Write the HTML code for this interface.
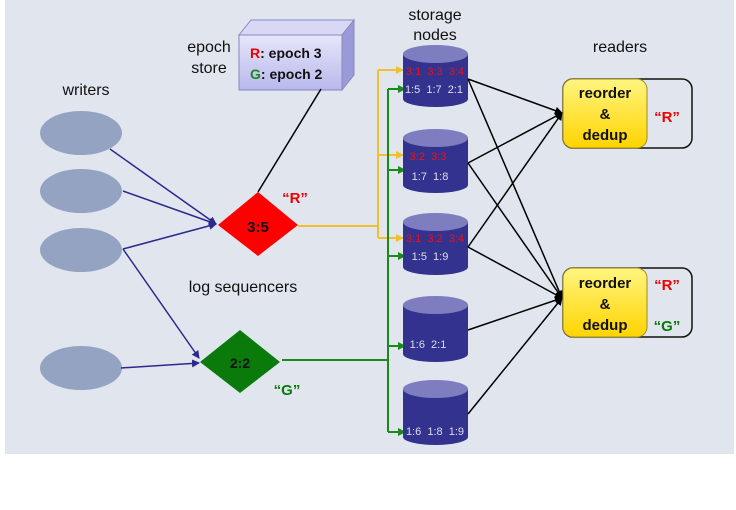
<!DOCTYPE html>
<html><head><meta charset="utf-8"><style>
body{margin:0;background:#fff;width:736px;height:510px;overflow:hidden}
svg{display:block;font-family:"Liberation Sans","DejaVu Sans",sans-serif}
</style></head><body>
<svg width="736" height="510" viewBox="0 0 736 510">
<defs>
<marker id="ab" markerWidth="8" markerHeight="8" refX="7" refY="4" orient="auto" markerUnits="userSpaceOnUse"><path d="M0,0L8,4L0,8z" fill="#2b2a8c"/></marker>
<marker id="ay" markerWidth="8" markerHeight="8" refX="7" refY="4" orient="auto" markerUnits="userSpaceOnUse"><path d="M0,0L8,4L0,8z" fill="#f0c030"/></marker>
<marker id="ag" markerWidth="8" markerHeight="8" refX="7" refY="4" orient="auto" markerUnits="userSpaceOnUse"><path d="M0,0L8,4L0,8z" fill="#1a8a1a"/></marker>
<marker id="ak" markerWidth="8" markerHeight="8" refX="7" refY="4" orient="auto" markerUnits="userSpaceOnUse"><path d="M0,0L8,4L0,8z" fill="#000"/></marker>
<linearGradient id="yg" x1="0" y1="0" x2="0" y2="1"><stop offset="0" stop-color="#fff580"/><stop offset="1" stop-color="#ffd400"/></linearGradient>
<linearGradient id="bx" x1="0" y1="0" x2="0" y2="1"><stop offset="0" stop-color="#e6e6fa"/><stop offset="1" stop-color="#b8b8ec"/></linearGradient>
</defs>
<rect x="5" y="0" width="729" height="454" fill="#e0e5ee"/>

<text x="86" y="95" font-size="16" text-anchor="middle" fill="#111">writers</text>
<text x="209" y="52" font-size="16" text-anchor="middle" fill="#111">epoch</text>
<text x="209" y="73" font-size="16" text-anchor="middle" fill="#111">store</text>
<text x="435" y="20" font-size="16" text-anchor="middle" fill="#111">storage</text>
<text x="435" y="40" font-size="16" text-anchor="middle" fill="#111">nodes</text>
<text x="620" y="52" font-size="16" text-anchor="middle" fill="#111">readers</text>
<text x="243" y="292" font-size="16" text-anchor="middle" fill="#111">log sequencers</text>

<polygon points="239,35 251,20 354,20 342,35" fill="#d8d8f4" stroke="#8888c0"/>
<polygon points="342,35 354,20 354,75 342,90" fill="#9a9ad8" stroke="#8888c0"/>
<rect x="239" y="35" width="103" height="55" fill="url(#bx)" stroke="#8888c0"/>
<text x="250" y="58" font-size="14" font-weight="bold"><tspan fill="#e00">R</tspan><tspan fill="#111">: epoch 3</tspan></text>
<text x="250" y="79" font-size="14" font-weight="bold"><tspan fill="#1a8a1a">G</tspan><tspan fill="#111">: epoch 2</tspan></text>
<line x1="321" y1="89" x2="258" y2="192" stroke="#000" stroke-width="1.5"/>

<g fill="#95a3c2">
<ellipse cx="81" cy="133" rx="41" ry="22"/>
<ellipse cx="81" cy="191" rx="41" ry="22"/>
<ellipse cx="81" cy="250" rx="41" ry="22"/>
<ellipse cx="81" cy="368" rx="41" ry="22"/>
</g>
<g stroke="#2b2a8c" stroke-width="1.5" fill="none">
<line x1="110" y1="149" x2="216" y2="224" marker-end="url(#ab)"/>
<line x1="123" y1="191" x2="216" y2="224" marker-end="url(#ab)"/>
<line x1="123" y1="249" x2="216" y2="224" marker-end="url(#ab)"/>
<line x1="123" y1="249" x2="199" y2="358" marker-end="url(#ab)"/>
<line x1="121" y1="368" x2="199" y2="363" marker-end="url(#ab)"/>
</g>

<polygon points="258,192 298,225 258,256 218,225" fill="#ff0000"/>
<text x="258" y="232" font-size="15" font-weight="bold" text-anchor="middle" fill="#111">3:5</text>
<text x="295" y="203" font-size="15" font-weight="bold" text-anchor="middle" fill="#e00">“R”</text>
<polygon points="240,330 280,362 240,393 200,362" fill="#0a7a0a"/>
<text x="240" y="368" font-size="14" font-weight="bold" text-anchor="middle" fill="#111">2:2</text>
<text x="287" y="395" font-size="15" font-weight="bold" text-anchor="middle" fill="#0a7a0a">“G”</text>

<g stroke="#f0c030" stroke-width="2" fill="none">
<polyline points="298,226 378,226"/>
<line x1="378" y1="70" x2="378" y2="238"/>
<line x1="378" y1="70" x2="403" y2="70" marker-end="url(#ay)"/>
<line x1="378" y1="155" x2="403" y2="155" marker-end="url(#ay)"/>
<line x1="378" y1="238" x2="403" y2="238" marker-end="url(#ay)"/>
</g>
<g stroke="#1a8a1a" stroke-width="2" fill="none">
<line x1="282" y1="360" x2="388" y2="360"/>
<line x1="388" y1="89" x2="388" y2="432"/>
<line x1="388" y1="89" x2="405" y2="89" marker-end="url(#ag)"/>
<line x1="388" y1="170" x2="405" y2="170" marker-end="url(#ag)"/>
<line x1="388" y1="256" x2="405" y2="256" marker-end="url(#ag)"/>
<line x1="388" y1="346" x2="405" y2="346" marker-end="url(#ag)"/>
<line x1="388" y1="432" x2="405" y2="432" marker-end="url(#ag)"/>
</g>

<g>
<path d="M403,54 V99 A32.5,8 0 0 0 468,99 V54 Z" fill="#33338f"/><ellipse cx="435.5" cy="54" rx="32.5" ry="9" fill="#7d7dc0"/>
<path d="M403,138 V185 A32.5,8 0 0 0 468,185 V138 Z" fill="#33338f"/><ellipse cx="435.5" cy="138" rx="32.5" ry="9" fill="#7d7dc0"/>
<path d="M403,222 V267 A32.5,8 0 0 0 468,267 V222 Z" fill="#33338f"/><ellipse cx="435.5" cy="222" rx="32.5" ry="9" fill="#7d7dc0"/>
<path d="M403,305 V354 A32.5,8 0 0 0 468,354 V305 Z" fill="#33338f"/><ellipse cx="435.5" cy="305" rx="32.5" ry="9" fill="#7d7dc0"/>
<path d="M403,389 V437 A32.5,8 0 0 0 468,437 V389 Z" fill="#33338f"/><ellipse cx="435.5" cy="389" rx="32.5" ry="9" fill="#7d7dc0"/>
</g>
<g font-size="11" fill="#f01010" text-anchor="middle">
<text x="435" y="75" xml:space="preserve">3:1  3:3  3:4</text>
<text x="428" y="160" xml:space="preserve">3:2  3:3</text>
<text x="435" y="242" xml:space="preserve">3:1  3:2  3:4</text>
</g>
<g font-size="11" fill="#dde" text-anchor="middle">
<text x="434" y="93" xml:space="preserve">1:5  1:7  2:1</text>
<text x="430" y="180" xml:space="preserve">1:7  1:8</text>
<text x="430" y="260" xml:space="preserve">1:5  1:9</text>
<text x="428" y="348" xml:space="preserve">1:6  2:1</text>
<text x="435" y="435" xml:space="preserve">1:6  1:8  1:9</text>
</g>

<g stroke="#000" stroke-width="1.5" fill="none">
<line x1="468" y1="79" x2="562" y2="113" marker-end="url(#ak)"/>
<line x1="468" y1="79" x2="562" y2="298" marker-end="url(#ak)"/>
<line x1="468" y1="163" x2="562" y2="113" marker-end="url(#ak)"/>
<line x1="468" y1="163" x2="562" y2="298" marker-end="url(#ak)"/>
<line x1="468" y1="247" x2="562" y2="113" marker-end="url(#ak)"/>
<line x1="468" y1="247" x2="562" y2="298" marker-end="url(#ak)"/>
<line x1="468" y1="330" x2="562" y2="298" marker-end="url(#ak)"/>
<line x1="468" y1="414" x2="562" y2="298" marker-end="url(#ak)"/>
</g>

<rect x="563" y="79" width="129" height="69" rx="10" fill="none" stroke="#111" stroke-width="1.5"/>
<rect x="563" y="79" width="84" height="69" rx="10" fill="url(#yg)" stroke="#a08a20"/>
<text x="605" y="98" font-size="15" font-weight="bold" text-anchor="middle" fill="#111">reorder</text>
<text x="605" y="119" font-size="15" font-weight="bold" text-anchor="middle" fill="#111">&amp;</text>
<text x="605" y="140" font-size="15" font-weight="bold" text-anchor="middle" fill="#111">dedup</text>
<text x="667" y="122" font-size="15" font-weight="bold" text-anchor="middle" fill="#e00">“R”</text>

<rect x="563" y="268" width="129" height="69" rx="10" fill="none" stroke="#111" stroke-width="1.5"/>
<rect x="563" y="268" width="84" height="69" rx="10" fill="url(#yg)" stroke="#a08a20"/>
<text x="605" y="288" font-size="15" font-weight="bold" text-anchor="middle" fill="#111">reorder</text>
<text x="605" y="309" font-size="15" font-weight="bold" text-anchor="middle" fill="#111">&amp;</text>
<text x="605" y="330" font-size="15" font-weight="bold" text-anchor="middle" fill="#111">dedup</text>
<text x="667" y="290" font-size="15" font-weight="bold" text-anchor="middle" fill="#e00">“R”</text>
<text x="667" y="331" font-size="15" font-weight="bold" text-anchor="middle" fill="#0a7a0a">“G”</text>
</svg>
</body></html>
